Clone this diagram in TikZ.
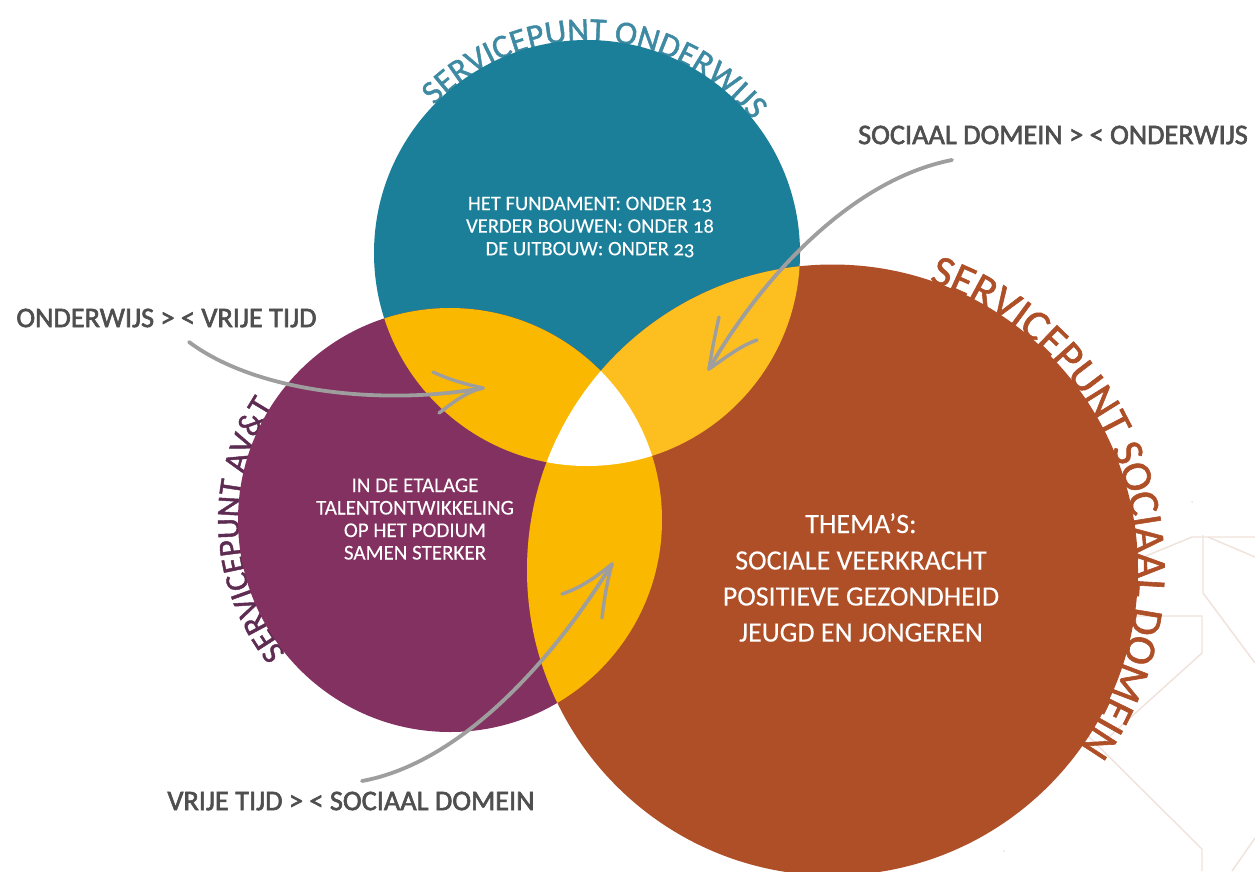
\documentclass[tikz,border=0pt]{standalone}
\usepackage{fontspec}
\usetikzlibrary{decorations.text}
\newfontfamily\bodyfont[Numbers=OldStyle,FakeBold=0.1]{Carlito}
\newfontfamily\titlefont[FakeBold=1.4]{Carlito}
\newfontfamily\labelfont[FakeBold=2.2]{Carlito}
\setmainfont{Carlito}
\definecolor{cteal}{HTML}{1C7F9A}
\definecolor{cpurple}{HTML}{833160}
\definecolor{corange}{HTML}{AE4F28}
\definecolor{cyellowA}{HTML}{FBB800}
\definecolor{cyellowB}{HTML}{FDBF20}
\definecolor{tteal}{HTML}{3E8AA3}
\definecolor{tpurple}{HTML}{5E2C52}
\definecolor{tgray}{HTML}{4F4F4F}
\definecolor{cgray}{HTML}{9E9E9E}
\definecolor{bgline}{HTML}{F0E2DB}
\tikzset{
  x=1pt,y=1pt,
  arrowline/.style={draw=cgray,line width=3.8pt,line cap=round},
  barbline/.style={draw=cgray,line width=3.4pt,line cap=round},
  whitetext/.style={text=white,align=center,inner sep=0pt,font=\bodyfont\fontsize{#1}{#1}\selectfont},
  graylabel/.style={text=tgray,inner sep=0pt,font=\labelfont\fontsize{28.3}{28.3}\selectfont},
  bgpoly/.style={draw=bgline,line width=1.4pt}
}
\begin{document}
\begin{tikzpicture}
\useasboundingbox (0,0) rectangle (1255,-871);
\fill[white] (0,0) rectangle (1255,-871);
\coordinate (T) at (587,-253);
\coordinate (P) at (450,-520);
\coordinate (O) at (832.5,-570);
% faint background lines
\draw[bgpoly] (1100,-575) -- (1192,-537) -- (1255,-537);
\draw[bgpoly] (1203,-535) -- (1203,-593) -- (1255,-663);
\draw[bgpoly] (1208,-537) -- (1255,-557);
\draw[bgpoly] (1100,-616) -- (1202,-616) -- (1202,-653) -- (1100,-745);
\draw[bgpoly] (1080,-728) -- (1202,-849) -- (1202,-871);
\draw[bgpoly] (1255,-838) -- (1232,-871);
\fill[bgline] (1192,-502) circle (1);
\fill[bgline] (1004,-851) circle (1);
% curved titles
\path[decorate,decoration={text along path,text={|\titlefont\fontsize{33.6}{33.6}\selectfont\color{tteal}|SERVICEPUNT ONDERWIJS}}]
  (T) ++(136:212) arc[start angle=136,end angle=15,radius=212];
\path[decorate,decoration={text along path,text={|\titlefont\fontsize{32.5}{32.5}\selectfont\color{tpurple}|SERVICEPUNT AV{\&}T}}]
  (P) ++(219:211) arc[start angle=219,end angle=125,radius=211];
\path[decorate,decoration={text along path,text={|\titlefont\fontsize{43.5}{43.5}\selectfont\color{corange}|SERVICEPUNT SOCIAAL DOMEIN}}]
  (O) ++(71.5:304) arc[start angle=71.5,end angle=-60,radius=304];
% circles
\fill[cteal] (T) circle (213);
\fill[cpurple] (P) circle (212);
\fill[corange] (O) circle (305.5);
\begin{scope}
  \clip (T) circle (213);
  \fill[cyellowA] (P) circle (212);
\end{scope}
\begin{scope}
  \clip (T) circle (213);
  \fill[cyellowB] (O) circle (305.5);
\end{scope}
\begin{scope}
  \clip (P) circle (212);
  \fill[cyellowA] (O) circle (305.5);
\end{scope}
\begin{scope}
  \clip (T) circle (213);
  \clip (P) circle (212);
  \fill[white] (O) circle (305.5);
\end{scope}
% texts
\node[whitetext=20.6] (tealtext) at (590,-227) {HET FUNDAMENT: ONDER 13\\[2pt]VERDER BOUWEN: ONDER 18\\[2pt]DE UITBOUW: ONDER 23};
\node[whitetext=21] (purpletext) at (415,-519) {IN DE ETALAGE\\[1.5pt]TALENTONTWIKKELING\\[1.5pt]OP HET PODIUM\\[1.5pt]SAMEN STERKER};
\node[whitetext=28] (orangetext) at (861,-577.5) {THEMA’S:\\[8.5pt]SOCIALE VEERKRACHT\\[8pt]POSITIEVE GEZONDHEID\\[8pt]JEUGD EN JONGEREN};
\node[graylabel] (sd) at (1053,-135) {SOCIAAL DOMEIN > < ONDERWIJS};
\node[graylabel] (ov) at (166.5,-318) {ONDERWIJS > < VRIJE TIJD};
\node[graylabel] (vs) at (351,-801) {VRIJE TIJD > < SOCIAAL DOMEIN};
% connectors
\coordinate (a1s) at (189,-342);
\coordinate (a1e) at (483,-388);
\coordinate (a1u) at (433,-372);
\coordinate (a1d) at (439,-413);
\draw[arrowline] (a1s) .. controls (260,-395) and (390,-405) .. (a1e);
\draw[barbline] (a1e) .. controls (465,-384) and (450,-380) .. (a1u);
\draw[barbline] (a1e) .. controls (465,-392) and (450,-405) .. (a1d);
\coordinate (a2s) at (952,-160);
\coordinate (a2e) at (709,-369);
\coordinate (a2u) at (719,-317);
\coordinate (a2d) at (757,-340);
\draw[arrowline] (a2s) .. controls (850,-180) and (760,-280) .. (a2e);
\draw[barbline] (a2e) .. controls (712,-350) and (715,-335) .. (a2u);
\draw[barbline] (a2e) .. controls (725,-358) and (740,-346) .. (a2d);
\coordinate (a3s) at (362,-781);
\coordinate (a3e) at (612,-564);
\coordinate (a3u) at (562,-594);
\coordinate (a3d) at (602,-618);
\draw[arrowline] (a3s) .. controls (450,-765) and (540,-680) .. (a3e);
\draw[barbline] (a3e) .. controls (595,-578) and (580,-588) .. (a3u);
\draw[barbline] (a3e) .. controls (607,-582) and (604,-600) .. (a3d);
\end{tikzpicture}
\end{document}
